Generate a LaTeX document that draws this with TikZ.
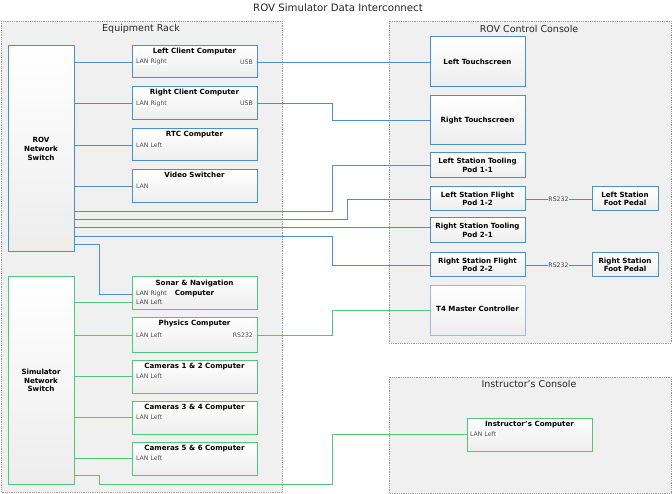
\documentclass[tikz,border=0pt]{standalone}
\usepackage{fontspec}
\setmainfont{DejaVu Sans}
\definecolor{lnblue}{HTML}{4A90D0}
\definecolor{lngreen}{HTML}{50C87C}
\definecolor{paleblue}{HTML}{9DBBDA}
\definecolor{contfill}{HTML}{F0F0F0}
\definecolor{contline}{HTML}{9A9A9A}
\tikzset{
  container/.style={draw=contline, densely dotted, fill=contfill, line width=0.8pt},
  ctitle/.style={font=\fontsize{9.5}{11}\selectfont, text=black!85, inner sep=0},
  box/.style={draw, line width=1pt, top color=white, bottom color=black!7, inner sep=0, minimum width=125pt, minimum height=33pt},
  bbox/.style={box, draw=lnblue},
  gbox/.style={box, draw=lngreen},
  wire/.style={line width=0.9pt},
  bw/.style={wire, draw=lnblue},
  gw/.style={wire, draw=lngreen},
  ttl/.style={font=\fontsize{7.1}{8.6}\selectfont\bfseries, align=center, inner sep=0},
  lbl/.style={font=\fontsize{6.2}{7}\selectfont, text=black!72, inner sep=0.4pt, fill=white},
}
\begin{document}
\begin{tikzpicture}[x=1pt,y=-1pt]
\useasboundingbox (0,0) rectangle (672,494);
\node[ctitle, font=\fontsize{10.2}{11}\selectfont] (maintitle) at (338,8) {ROV Simulator Data Interconnect};

% containers
\draw[container] (1,21) rectangle (282,492);
\node[ctitle] (racktitle) at (141,29) {Equipment Rack};
\draw[container] (389,21) rectangle (671,343);
\node[ctitle] (constitle) at (529,29) {ROV Control Console};
\draw[container] (389,377) rectangle (671,493);
\node[ctitle] (institle) at (529,384) {Instructor’s Console};

\coordinate (jx) at (332,0);
\coordinate (jx2) at (347,0);
\coordinate (jy) at (99,0);

% switches
\node[bbox, minimum width=66pt, minimum height=206pt] (rovsw) at (41,149) {};
\node[ttl] (rovswt) at (rovsw) {ROV\\Network\\Switch};
\node[gbox, minimum width=66pt, minimum height=207pt] (simsw) at (41,380.5) {};
\node[ttl] (simswt) at (simsw) {Simulator\\Network\\Switch};

% rack computers
\node[bbox, minimum height=32pt] (lcc) at (194.5,62) {};
\node[ttl, anchor=base] (lcct) at ([yshift=-8.5pt]lcc.north) {Left Client Computer};
\node[lbl, anchor=west] (lccl) at ([xshift=4pt]lcc.west) {LAN Right};
\node[lbl, anchor=east] (lccu) at ([xshift=-4pt]lcc.east) {USB};

\node[bbox] (rcc) at (194.5,103.5) {};
\node[ttl, anchor=base] (rcct) at ([yshift=-8.5pt]rcc.north) {Right Client Computer};
\node[lbl, anchor=west] (rccl) at ([xshift=4pt]rcc.west) {LAN Right};
\node[lbl, anchor=east] (rccu) at ([xshift=-4pt]rcc.east) {USB};

\node[bbox, minimum height=32pt] (rtc) at (194.5,145) {};
\node[ttl, anchor=base] (rtct) at ([yshift=-8.5pt]rtc.north) {RTC Computer};
\node[lbl, anchor=west] (rtcl) at ([xshift=4pt]rtc.west) {LAN Left};

\node[bbox] (vsw) at (194.5,186.5) {};
\node[ttl, anchor=base] (vswt) at ([yshift=-8.5pt]vsw.north) {Video Switcher};
\node[lbl, anchor=west] (vswl) at ([xshift=4pt]vsw.west) {LAN};

\node[gbox] (sonar) at (194.5,293.5) {};
\node[ttl, anchor=base] (sonart1) at ([yshift=-9pt]sonar.north) {Sonar \& Navigation};
\node[ttl, anchor=base] (sonart2) at ([yshift=-19pt]sonar.north) {Computer};
\node[lbl, anchor=west, fill=none] (sonarl1) at (sonar.west |- 0,294) {\hspace{4pt}LAN Right};
\node[lbl, anchor=west, fill=none] (sonarl2) at (sonar.west |- 0,302.5) {\hspace{4pt}LAN Left};

\node[gbox, minimum height=34pt] (phys) at (194.5,335) {};
\node[ttl, anchor=base] (physt) at ([yshift=-8.5pt]phys.north) {Physics Computer};
\node[lbl, anchor=west] (physl) at ([xshift=4pt]phys.west) {LAN Left};
\node[lbl, anchor=east] (physr) at ([xshift=-4pt]phys.east) {RS232};

\node[gbox] (cam12) at (194.5,376.5) {};
\node[ttl, anchor=base] (cam12t) at ([yshift=-8.5pt]cam12.north) {Cameras 1 \& 2 Computer};
\node[lbl, anchor=west] (cam12l) at ([xshift=4pt]cam12.west) {LAN Left};

\node[gbox] (cam34) at (194.5,417.5) {};
\node[ttl, anchor=base] (cam34t) at ([yshift=-8.5pt]cam34.north) {Cameras 3 \& 4 Computer};
\node[lbl, anchor=west] (cam34l) at ([xshift=4pt]cam34.west) {LAN Left};

\node[gbox] (cam56) at (194.5,458.5) {};
\node[ttl, anchor=base] (cam56t) at ([yshift=-8.5pt]cam56.north) {Cameras 5 \& 6 Computer};
\node[lbl, anchor=west] (cam56l) at ([xshift=4pt]cam56.west) {LAN Left};

% console devices
\node[bbox, minimum width=95pt, minimum height=50pt] (lts) at (477.5,62) {};
\node[ttl] (ltst) at (lts) {Left Touchscreen};
\node[bbox, minimum width=95pt, minimum height=49pt] (rts) at (477.5,120.5) {};
\node[ttl] (rtst) at (rts) {Right Touchscreen};
\node[bbox, minimum width=95pt, minimum height=25pt] (tp11) at (477.5,165.5) {};
\node[ttl] (tp11t) at (tp11) {Left Station Tooling\\Pod 1-1};
\node[bbox, minimum width=95pt, minimum height=24pt] (fp12) at (477.5,199) {};
\node[ttl] (fp12t) at (fp12) {Left Station Flight\\Pod 1-2};
\node[bbox, minimum width=95pt, minimum height=25pt] (tp21) at (477.5,230.5) {};
\node[ttl] (tp21t) at (tp21) {Right Station Tooling\\Pod 2-1};
\node[bbox, minimum width=95pt, minimum height=24pt] (fp22) at (477.5,265) {};
\node[ttl] (fp22t) at (fp22) {Right Station Flight\\Pod 2-2};
\node[box, draw=paleblue, minimum width=95pt, minimum height=49pt] (t4) at (477.5,310.5) {};
\node[ttl] (t4t) at ([yshift=1.5pt]t4) {T4 Master Controller};
\node[bbox, minimum width=66pt, minimum height=24pt] (lfp) at (625,199) {};
\node[ttl] (lfpt) at (lfp) {Left Station\\Foot Pedal};
\node[bbox, minimum width=66pt, minimum height=24pt] (rfp) at (625,265) {};
\node[ttl] (rfpt) at (rfp) {Right Station\\Foot Pedal};

% instructor
\node[gbox] (ic) at (529.5,434.5) {};
\node[ttl, anchor=base] (ict) at ([yshift=-8.5pt]ic.north) {Instructor’s Computer};
\node[lbl, anchor=west] (icl) at ([xshift=3pt]ic.west) {LAN Left};

% blue wires
\draw[bw] (rovsw.east |- lcc) -- (lcc.west);
\draw[bw] (rovsw.east |- rcc) -- (rcc.west);
\draw[bw] (rovsw.east |- rtc) -- (rtc.west);
\draw[bw] (rovsw.east |- vsw) -- (vsw.west);
\draw[bw] (lcc.east) -- (lts.west);
\draw[bw] (rcc.east) -| (jx |- rts.west) -- (rts.west);
\draw[bw] (rovsw.east |- 0,211) -| (jx |- tp11.west) -- (tp11.west);
\draw[bw] (rovsw.east |- 0,219) -| (jx2 |- fp12.west) -- (fp12.west);
\draw[bw] (rovsw.east |- 0,227) -- (tp21.west |- 0,227);
\draw[bw] (rovsw.east |- 0,236) -| (jx |- fp22.west) -- (fp22.west);
\draw[bw] (rovsw.east |- 0,244) -| (jy |- sonarl1) -- (sonarl1.west);
\draw[bw] (fp12.east) -- node[lbl, fill=contfill] (rs1) {RS232} (lfp.west);
\draw[bw] (fp22.east) -- node[lbl, fill=contfill] (rs2) {RS232} (rfp.west);

% green wires
\draw[gw] (simsw.east |- sonarl2) -- (sonarl2.west);
\draw[gw] (simsw.east |- phys) -- (phys.west);
\draw[gw] (simsw.east |- cam12) -- (cam12.west);
\draw[gw] (simsw.east |- cam34) -- (cam34.west);
\draw[gw] (simsw.east |- cam56) -- (cam56.west);
\draw[gw] (phys.east) -| (jx |- t4.west) -- (t4.west);
\draw[gw] (simsw.east |- 0,475) -| (jy |- 0,484) -- (jx |- 0,484) |- (ic.west);
\end{tikzpicture}
\end{document}
